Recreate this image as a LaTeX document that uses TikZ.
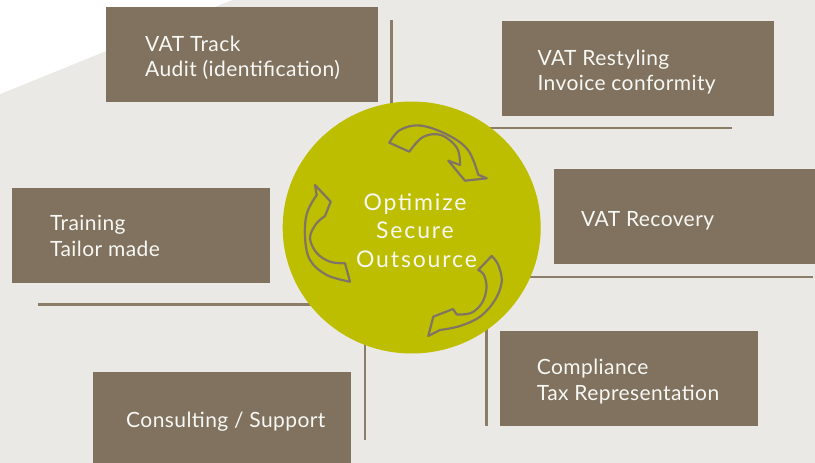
\documentclass[tikz,border=0pt]{standalone}
\usetikzlibrary{shapes.geometric}
\usepackage{fontspec}
\setmainfont{Lato}
\newfontfamily\circfont[LetterSpace=8]{Lato}
\newfontfamily\boxfont[LetterSpace=2]{Lato}
\definecolor{bgc}{HTML}{EBE9E5}
\definecolor{boxc}{HTML}{80725E}
\definecolor{linec}{HTML}{8B7D68}
\definecolor{olive}{HTML}{BEBE00}
\definecolor{arrc}{HTML}{807464}
\definecolor{txtc}{HTML}{F7F7F4}
\begin{document}
\begin{tikzpicture}[x=1pt,y=-1pt,
  box/.style={fill=boxc, draw=none, rectangle, inner sep=0pt},
  lbl/.style={text=txtc, font=\fontsize{21}{25}\selectfont\boxfont, inner sep=0pt, anchor=base west},
  clbl/.style={text=txtc, font=\fontsize{23}{28}\selectfont\circfont, inner sep=0pt, anchor=base},
  rule/.style={draw=linec, line width=2.6pt},
  carrow/.style={draw=arrc, line width=2.2pt, line join=round}]
\useasboundingbox (0,0) rectangle (815,463);
\fill[bgc] (0,0) rectangle (815,463);
\fill[white] (0,0) -- (232,0) -- (0,94) -- cycle;
% rules
\coordinate (r1a) at (391.5,20);   \coordinate (r1b) at (391.5,140);
\coordinate (r2a) at (470,128);    \coordinate (r2b) at (731.7,128);
\coordinate (r3a) at (520,277);    \coordinate (r3b) at (813,277);
\coordinate (r4a) at (38.3,304.7); \coordinate (r4b) at (330,304.7);
\coordinate (r5a) at (365,330);    \coordinate (r5b) at (365,440);
\coordinate (r6a) at (486.7,310);  \coordinate (r6b) at (486.7,426);
\draw[rule] (r1a) -- (r1b);
\draw[rule] (r2a) -- (r2b);
\draw[rule] (r3a) -- (r3b);
\draw[rule] (r4a) -- (r4b);
\draw[rule] (r5a) -- (r5b);
\draw[rule] (r6a) -- (r6b);
% centre circle
\node[ellipse, fill=olive, minimum width=258pt, minimum height=252pt, inner sep=0pt] (hub) at (411.7,227.5) {};
\node[clbl] (h1) at (415,210) {Optimize};
\node[clbl] (h2) at (415,238.5) {Secure};
\node[clbl] (h3) at (416.5,267) {Outsource};
% curved arrows
\draw[carrow] plot[smooth, tension=0.6] coordinates {(389.3,142.7) (400,130) (420,125.5) (447,134.5) (468,150) (478.3,174.7)}
  -- (486.7,178.3) -- (465,180.7) -- (448.3,160.7) -- (460,165)
  -- plot[smooth, tension=0.6] coordinates {(460,165) (457,148) (441,135) (423,137) (409.3,151.7)} -- cycle;
\draw[carrow] (315,185) -- (330.7,201.7) -- (325,216)
  -- plot[smooth, tension=0.6] coordinates {(325,216) (316,224) (310,238) (316.7,253) (330,261.7) (345,263.3)}
  -- (350,281.7)
  -- plot[smooth, tension=0.6] coordinates {(350,281.7) (326.7,275) (310,260) (305,237) (307,213) (316.7,195)} -- cycle;
\draw[carrow] plot[smooth, tension=0.6] coordinates {(491.7,256) (498.3,265) (501.7,281.7) (495,300) (480,316.7) (460,326) (440,330)}
  -- (428.3,336) -- (433.3,316.7) -- (453,309) -- (456.7,314.5)
  -- plot[smooth, tension=0.6] coordinates {(456.7,314.5) (471,313) (482,303) (486.5,288) (484,275) (478.3,270)} -- cycle;
% boxes
\node[box, minimum width=272pt, minimum height=95pt] (b1) at (242,54.5) {};
\node[box, minimum width=272pt, minimum height=95pt] (b2) at (638,68.5) {};
\node[box, minimum width=258pt, minimum height=95pt] (b3) at (141,235.5) {};
\node[box, minimum width=261pt, minimum height=95pt] (b4) at (684.5,216.5) {};
\node[box, minimum width=258pt, minimum height=91pt] (b5) at (222,417.5) {};
\node[box, minimum width=258pt, minimum height=95pt] (b6) at (629,378.5) {};
% labels
\node[lbl] (t1a) at (145,52) {VAT Track};
\node[lbl] (t1b) at (145,76.5) {Audit (identification)};
\node[lbl] (t2a) at (537.3,65) {VAT Restyling};
\node[lbl] (t2b) at (537.3,90.5) {Invoice conformity};
\node[lbl] (t3a) at (50,230.5) {Training};
\node[lbl] (t3b) at (50,256) {Tailor made};
\node[lbl] (t4a) at (581,226) {VAT Recovery};
\node[lbl] (t5a) at (126,427.3) {Consulting / Support};
\node[lbl] (t6a) at (536.7,374) {Compliance};
\node[lbl] (t6b) at (536.7,400.5) {Tax Representation};
\end{tikzpicture}
\end{document}
